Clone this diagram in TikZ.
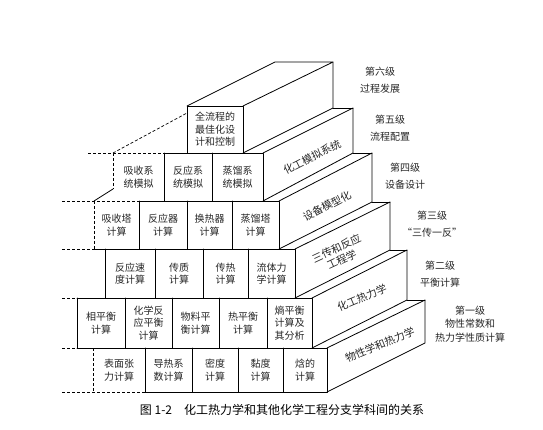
\documentclass[tikz,border=0pt]{standalone}
\usepackage{fontspec}
\setmainfont{Noto Sans CJK SC}
\begin{document}
\begin{tikzpicture}[x=1pt,y=-1pt,
  edge/.style={line width=0.8pt, line join=round, line cap=round},
  hid/.style={line width=0.7pt, dash pattern=on 3pt off 2pt},
  cell/.style={align=center, font=\fontsize{10}{12.5}\selectfont, inner sep=0pt, text=black!85},
  face/.style={align=center, font=\fontsize{10.5}{12.5}\selectfont, inner sep=0pt, text=black!85},
  lvl/.style={align=center, font=\fontsize{10}{17}\selectfont, inner sep=0pt, text=black!85},
  captext/.style={font=\fontsize{12}{14}\selectfont, inner sep=0pt, text=black}]
\useasboundingbox (0,0) rectangle (543,430);

% ---- row 6 (top block)
\draw[edge] (187,106) rectangle (243,153);
\draw[edge] (187,106) -- (275,62) -- (333,62) -- (243,106);
\draw[edge] (333,62) -- (333,108) -- (243,153);
\draw[edge] (333,108) -- (353,108);
% ---- row 5
\draw[edge] (164,153) -- (263,153) -- (263,201);
\draw[edge] (164,153) -- (164,201) (212,153) -- (212,201);
\draw[edge] (263,153) -- (353,108) -- (353,153) -- (263,201);
\draw[edge] (353,153) -- (372,153);
% ---- row 4
\draw[edge] (139,201) -- (279,201) -- (279,249);
\draw[edge] (139,201) -- (139,249) (187,201) -- (187,249) (232,201) -- (232,249);
\draw[edge] (279,201) -- (372,153) -- (372,202) -- (279,249);
\draw[edge] (372,202) -- (390,202);
\draw[edge] (94,201) -- (113,189);
% ---- row 3
\draw[edge] (94,249) -- (295,249) -- (295,298);
\draw[edge] (105,249) -- (105,298) (155,249) -- (155,298) (203,249) -- (203,298) (248,249) -- (248,298);
\draw[edge] (295,249) -- (390,202) -- (390,250) -- (295,298);
\draw[edge] (390,250) -- (407,250);
% ---- row 2
\draw[edge] (77,298) -- (312,298) -- (312,348);
\draw[edge] (77,298) -- (77,348) (125,298) -- (125,348) (172,298) -- (172,348) (219,298) -- (219,348) (267,298) -- (267,348);
\draw[edge] (312,298) -- (407,250) -- (407,300) -- (312,348);
\draw[edge] (407,300) -- (425,300);
% ---- row 1
\draw[edge] (77,348) -- (327,348) -- (327,392) -- (145,392);
\draw[edge] (145,348) -- (145,392) (192,348) -- (192,392) (238,348) -- (238,392) (283,348) -- (283,392);
\draw[edge] (327,348) -- (425,300) -- (425,343) -- (327,392);

% ---- dashed outlines on the left
\draw[hid] (88,153) -- (164,153);
\draw[hid] (113,153) -- (113,189);
\draw[hid] (113,153) -- (187,113);
\draw[hid] (62,201) -- (139,201);
\draw[hid] (94,201) -- (94,249);
\draw[hid] (62,249) -- (94,249);
\draw[hid] (62,298) -- (77,298);
\draw[hid] (62,348) -- (77,348);
\draw[hid] (93,348) -- (93,392);
\draw[hid] (62,392) -- (145,392);

% ---- cell texts
\node[cell] (c61) at (215,129.5) {全流程的\\最佳化设\\计和控制};

\node[cell] (c51) at (138.5,177) {吸收系\\统模拟};
\node[cell] (c52) at (188,177) {反应系\\统模拟};
\node[cell] (c53) at (237.5,177) {蒸馏系\\统模拟};

\node[cell] (c41) at (116.5,225) {吸收塔\\计算};
\node[cell] (c42) at (163,225) {反应器\\计算};
\node[cell] (c43) at (209.5,225) {换热器\\计算};
\node[cell] (c44) at (255.5,225) {蒸馏塔\\计算};

\node[cell] (c31) at (130,273.5) {反应速\\度计算};
\node[cell] (c32) at (179,273.5) {传质\\计算};
\node[cell] (c33) at (225.5,273.5) {传热\\计算};
\node[cell] (c34) at (271.5,273.5) {流体力\\学计算};

\node[cell] (c21) at (101,323) {相平衡\\计算};
\node[cell] (c22) at (148.5,323) {化学反\\应平衡\\计算};
\node[cell] (c23) at (195.5,323) {物料平\\衡计算};
\node[cell] (c24) at (243,323) {热平衡\\计算};
\node[cell] (c25) at (289.5,323) {熵平衡\\计算及\\其分析};

\node[cell] (c11) at (119,370) {表面张\\力计算};
\node[cell] (c12) at (168.5,370) {导热系\\数计算};
\node[cell] (c13) at (215,370) {密度\\计算};
\node[cell] (c14) at (260.5,370) {黏度\\计算};
\node[cell] (c15) at (305,370) {焓的\\计算};

% ---- side-face labels
\node[face, rotate=27] (s5) at (312,157) {化工模拟系统};
\node[face, rotate=28] (s4) at (327,206) {设备模型化};
\node[face, rotate=25] (s3) at (339,254) {三传和反应\\工程学};
\node[face, rotate=23] (s2) at (362,298) {化工热力学};
\node[face, rotate=22] (s1) at (380,345) {物性学和热力学};

% ---- level labels
\node[lvl] (l6) at (380,80) {第六级\\过程发展};
\node[lvl] (l5) at (390,128.5) {第五级\\流程配置};
\node[lvl] (l4) at (405,176) {第四级\\设备设计};
\node[lvl] (l3) at (432,224) {第三级\\“三传一反”};
\node[lvl] (l2) at (440,274.5) {第二级\\平衡计算};
\node[lvl, font=\fontsize{10}{13.5}\selectfont] (l1) at (470,324) {第一级\\物性常数和\\热力学性质计算};

% ---- caption
\node[captext] (caption) at (282,410) {图 1-2\hspace{1em}化工热力学和其他化学工程分支学科间的关系};
\end{tikzpicture}
\end{document}
